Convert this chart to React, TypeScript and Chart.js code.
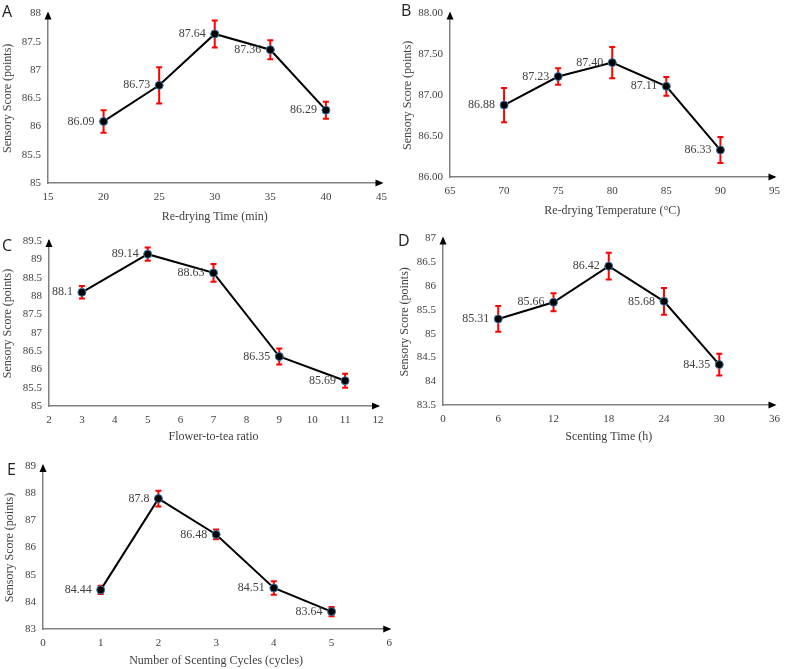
import React, { useEffect, useRef } from "react";
import { Chart, registerables } from "chart.js";
Chart.register(...registerables);

// ---------- Data ----------
const aX = [20, 25, 30, 35, 40];
const aY = [86.09, 86.73, 87.64, 87.36, 86.29];
const aErr = [0.2, 0.32, 0.24, 0.17, 0.15];

const bX = [70, 75, 80, 85, 90];
const bY = [86.88, 87.23, 87.4, 87.11, 86.33];
const bErr = [0.21, 0.1, 0.19, 0.115, 0.16];

const cX = [3, 5, 7, 9, 11];
const cY = [88.1, 89.14, 88.63, 86.35, 85.69];
const cErr = [0.17, 0.18, 0.24, 0.22, 0.19];

const dX = [6, 12, 18, 24, 30];
const dY = [85.31, 85.66, 86.42, 85.68, 84.35];
const dErr = [0.27, 0.19, 0.28, 0.28, 0.23];

const eX = [1, 2, 3, 4, 5];
const eY = [84.44, 87.8, 86.48, 84.51, 83.64];
const eErr = [0.15, 0.29, 0.18, 0.25, 0.17];

const yTitle = "Sensory Score (points)";
const xTitles = [
  "Re-drying Time (min)",
  "Re-drying Temperature (\u00B0C)",
  "Flower-to-tea ratio",
  "Scenting Time (h)",
  "Number of Scenting Cycles (cycles)",
];
const panelLetters = ["A", "B", "C", "D", "E"];

// ---------- Layout / styling ----------
const SERIF = '"Liberation Serif", "Times New Roman", serif';

type Panel = {
  letter: string;
  xs: number[];
  ys: number[];
  errs: number[];
  decimals: number; // -1 = as-is
  xTitle: string;
  xr: [number, number, number];
  yr: [number, number, number];
  box: { left: number; top: number; w: number; h: number };
  area: { left: number; top: number; right: number; bottom: number };
  yTitlePad: number;
  xTitlePad: number;
  letterPos: { left: number; top: number };
};

const panels: Panel[] = [
  {
    letter: panelLetters[0], xs: aX, ys: aY, errs: aErr, decimals: -1, xTitle: xTitles[0],
    xr: [15, 45, 5], yr: [85, 88, 0.5],
    box: { left: 0, top: 0, w: 395, h: 225 },
    area: { left: 48, top: 8, right: 385, bottom: 183 },
    yTitlePad: 1, xTitlePad: 1, letterPos: { left: 2, top: 3 },
  },
  {
    letter: panelLetters[1], xs: bX, ys: bY, errs: bErr, decimals: 2, xTitle: xTitles[1],
    xr: [65, 95, 5], yr: [86, 88, 0.5],
    box: { left: 395, top: 0, w: 393, h: 225 },
    area: { left: 450, top: 11, right: 778, bottom: 177 },
    yTitlePad: 6, xTitlePad: 7, letterPos: { left: 401, top: 2 },
  },
  {
    letter: panelLetters[2], xs: cX, ys: cY, errs: cErr, decimals: -1, xTitle: xTitles[2],
    xr: [2, 12, 1], yr: [85, 89.5, 0.5],
    box: { left: 0, top: 225, w: 395, h: 220 },
    area: { left: 49, top: 241, right: 378, bottom: 406 },
    yTitlePad: 1, xTitlePad: 1, letterPos: { left: 2, top: 237 },
  },
  {
    letter: panelLetters[3], xs: dX, ys: dY, errs: dErr, decimals: -1, xTitle: xTitles[3],
    xr: [0, 36, 6], yr: [83.5, 87, 0.5],
    box: { left: 395, top: 225, w: 393, h: 220 },
    area: { left: 443, top: 236, right: 777, bottom: 405 },
    yTitlePad: 3, xTitlePad: 1, letterPos: { left: 398, top: 232 },
  },
  {
    letter: panelLetters[4], xs: eX, ys: eY, errs: eErr, decimals: -1, xTitle: xTitles[4],
    xr: [0, 6, 1], yr: [83, 89, 1],
    box: { left: 0, top: 445, w: 400, h: 224 },
    area: { left: 43, top: 466, right: 391, bottom: 629 },
    yTitlePad: 3, xTitlePad: 1, letterPos: { left: 7, top: 461 },
  },
];

function fmt(v: number, d: number) {
  return d >= 0 ? v.toFixed(d) : String(v);
}

function PanelChart({ p }: { p: Panel }) {
  const ref = useRef<HTMLCanvasElement>(null);
  useEffect(() => {
    const canvas = ref.current!;
    const points = p.xs.map((x, i) => ({ x, y: p.ys[i] }));

    const errorBars = {
      id: "errorBars",
      beforeDatasetsDraw(chart: any) {
        const { ctx, scales } = chart;
        const xs = scales.x, ys = scales.y;
        ctx.save();
        ctx.strokeStyle = "#ff0000";
        ctx.lineWidth = 2;
        points.forEach((pt, i) => {
          const px = xs.getPixelForValue(pt.x);
          const t = ys.getPixelForValue(pt.y + p.errs[i]);
          const b = ys.getPixelForValue(pt.y - p.errs[i]);
          ctx.beginPath();
          ctx.moveTo(px, t); ctx.lineTo(px, b);
          ctx.moveTo(px - 3, t); ctx.lineTo(px + 3, t);
          ctx.moveTo(px - 3, b); ctx.lineTo(px + 3, b);
          ctx.stroke();
        });
        ctx.restore();
      },
    };

    const dataLabels = {
      id: "dataLabels",
      afterDatasetsDraw(chart: any) {
        const { ctx, scales } = chart;
        ctx.save();
        ctx.font = `12px ${SERIF}`;
        ctx.fillStyle = "#404040";
        ctx.textAlign = "right";
        ctx.textBaseline = "middle";
        points.forEach((pt) => {
          const px = scales.x.getPixelForValue(pt.x);
          const py = scales.y.getPixelForValue(pt.y);
          ctx.fillText(fmt(pt.y, p.decimals), px - 9, py);
        });
        ctx.restore();
      },
    };

    const arrows = {
      id: "arrows",
      afterDraw(chart: any) {
        const { ctx, chartArea } = chart;
        const l = chartArea.left, t = chartArea.top, r = chartArea.right, b = chartArea.bottom;
        ctx.save();
        ctx.fillStyle = "#000";
        ctx.beginPath();
        ctx.moveTo(l, t - 2);
        ctx.lineTo(l - 3.5, t + 6);
        ctx.lineTo(l + 3.5, t + 6);
        ctx.closePath();
        ctx.fill();
        ctx.beginPath();
        ctx.moveTo(r + 2, b);
        ctx.lineTo(r - 6, b - 3.5);
        ctx.lineTo(r - 6, b + 3.5);
        ctx.closePath();
        ctx.fill();
        ctx.restore();
      },
    };

    const yWidth = p.area.left - p.box.left;
    const xHeight = p.box.top + p.box.h - p.area.bottom;

    const chart = new Chart(canvas, {
      type: "line",
      data: {
        datasets: [
          {
            data: points,
            borderColor: "#000",
            borderWidth: 2,
            pointRadius: 4,
            pointBackgroundColor: "#000",
            pointBorderColor: "#3a78b0",
            pointBorderWidth: 1,
            tension: 0,
            fill: false,
          },
        ],
      },
      options: {
        responsive: false,
        animation: false,
        devicePixelRatio: 1,
        layout: {
          padding: {
            left: 0,
            bottom: 0,
            top: p.area.top - p.box.top,
            right: p.box.left + p.box.w - p.area.right,
          },
        },
        plugins: {
          legend: { display: false },
          tooltip: { enabled: false },
        },
        scales: {
          x: {
            type: "linear",
            min: p.xr[0],
            max: p.xr[1],
            grid: { display: false, drawTicks: false },
            border: { display: true, color: "#808080", width: 1.5 },
            ticks: {
              stepSize: p.xr[2],
              autoSkip: false,
              maxRotation: 0,
              padding: 8,
              color: "#404040",
              font: { family: SERIF, size: 11 },
              callback: (v: any) => String(v),
            },
            title: {
              display: true,
              text: p.xTitle,
              color: "#404040",
              font: { family: SERIF, size: 12 },
              padding: { top: 0, bottom: p.xTitlePad },
            },
            afterFit: (s: any) => {
              s.height = xHeight;
            },
          },
          y: {
            type: "linear",
            min: p.yr[0],
            max: p.yr[1],
            grid: { display: false, drawTicks: false },
            border: { display: true, color: "#808080", width: 1.5 },
            ticks: {
              stepSize: p.yr[2],
              autoSkip: false,
              padding: 7,
              color: "#404040",
              font: { family: SERIF, size: 11 },
              callback: (v: any) => fmt(Number(v), p.decimals),
            },
            title: {
              display: true,
              text: yTitle,
              color: "#404040",
              font: { family: SERIF, size: 12 },
              padding: { top: p.yTitlePad, bottom: 0 },
            },
            afterFit: (s: any) => {
              s.width = yWidth;
            },
          },
        },
      },
      plugins: [errorBars, dataLabels, arrows],
    } as any);
    return () => chart.destroy();
  }, [p]);

  return (
    <div
      style={{
        position: "absolute",
        left: p.box.left,
        top: p.box.top,
        width: p.box.w,
        height: p.box.h,
      }}
    >
      <canvas ref={ref} width={p.box.w} height={p.box.h} style={{ display: "block" }} />
    </div>
  );
}

export default function App() {
  return (
    <div
      style={{
        position: "absolute",
        left: 0,
        top: 0,
        width: 788,
        height: 669,
        background: "#fff",
        overflow: "hidden",
      }}
    >
      {panels.map((p) => (
        <PanelChart key={p.letter} p={p} />
      ))}
      {panels.map((p) => (
        <div
          key={"l" + p.letter}
          style={{
            position: "absolute",
            left: p.letterPos.left,
            top: p.letterPos.top,
            fontFamily: '"Open Sans", "Noto Sans", sans-serif',
            fontSize: 16,
            lineHeight: "16px",
            color: "#222",
          }}
        >
          {p.letter}
        </div>
      ))}
    </div>
  );
}
